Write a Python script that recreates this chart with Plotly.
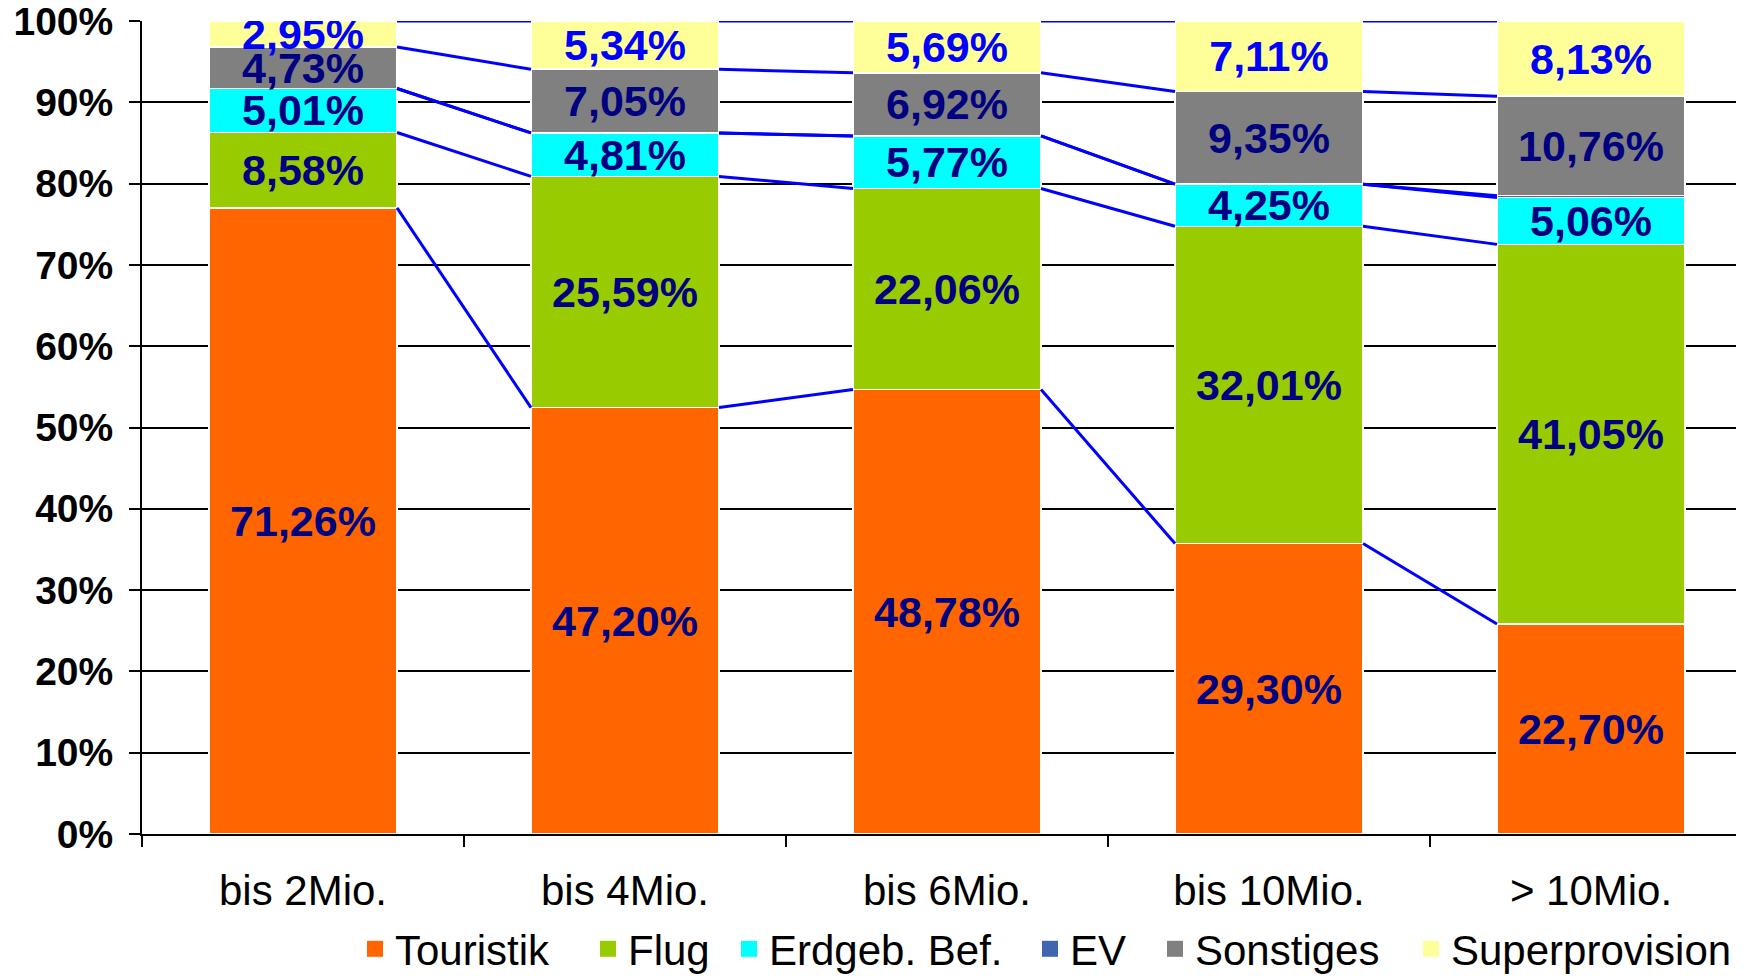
import plotly.graph_objects as go

categories = ["bis 2Mio.", "bis 4Mio.", "bis 6Mio.", "bis 10Mio.", "> 10Mio."]
touristik = [71.26, 47.20, 48.78, 29.30, 22.70]
flug = [8.58, 25.59, 22.06, 32.01, 41.05]
erdgeb = [5.01, 4.81, 5.77, 4.25, 5.06]
ev = [0.0, 0.0, 0.0, 0.0, 0.2]
sonstiges = [4.73, 7.05, 6.92, 9.35, 10.76]
superprovision = [2.95, 5.34, 5.69, 7.11, 8.13]
y_ticks = [0, 10, 20, 30, 40, 50, 60, 70, 80, 90, 100]
y_tick_labels = [f"{t}%" for t in y_ticks]

series = [
    ("Touristik", touristik, "#FF6600", "#000080", True),
    ("Flug", flug, "#99CC00", "#000080", True),
    ("Erdgeb. Bef.", erdgeb, "#00FFFF", "#000080", True),
    ("EV", ev, "#3F66AE", "#000080", False),
    ("Sonstiges", sonstiges, "#808080", "#000080", True),
    ("Superprovision", superprovision, "#FFFF99", "#0000FF", True),
]

FONT = "Liberation Sans, Arial, sans-serif"
bar_frac = 0.584
# layout: the page has an 8px body margin
W, H = 1736, 968
ML, MT, MB = 134, 13, 142
PLOT_W = W - ML
PLOT_H = H - MT - MB
legend_left_px = [355, 588, 729, 1030, 1155, 1411]  # page px of each legend entry

def fmt(v):
    return f"{v:.2f}".replace(".", ",") + "%"

fig = go.Figure()
for name, vals, col, tcol, show in series:
    fig.add_trace(go.Bar(
        x=categories, y=vals, name=name, showlegend=False,
        marker=dict(color=col, line=dict(color="white", width=1.5)),
        text=[fmt(v) if show else "" for v in vals],
        textposition="inside", insidetextanchor="middle", textangle=0,
        constraintext="none",
        textfont=dict(family=FONT, size=43, color=tcol, weight="bold"),
        hoverinfo="skip",
    ))

# legend entries (square swatches), each in its own legend box
legend_layouts = {}
for k, (name, vals, col, tcol, show) in enumerate(series):
    lname = "legend" if k == 0 else f"legend{k + 1}"
    fig.add_trace(go.Scatter(
        x=[None], y=[None], name=name, mode="markers", legend=lname,
        marker=dict(symbol="square", size=16, color=col),
        hoverinfo="skip",
    ))
    legend_layouts[lname] = dict(
        orientation="h", x=(legend_left_px[k] - 8 - ML) / PLOT_W, xanchor="left",
        yref="container", y=1 - 907 / H, yanchor="top",
        font=dict(family=FONT, size=42, color="black"),
        itemclick=False, itemsizing="trace", bgcolor="rgba(0,0,0,0)",
    )

# Series lines connecting stacked segment tops (normalised to 100 %)
n = len(categories)
totals = [sum(s[1][i] for s in series) for i in range(n)]
cum = [0.0] * n
for name, vals, col, tcol, show in series:
    cum = [cum[i] + vals[i] for i in range(n)]
    pct = [cum[i] / totals[i] * 100 for i in range(n)]
    xs, ys = [], []
    for i in range(n - 1):
        xs += [i + bar_frac / 2, i + 1 - bar_frac / 2, None]
        ys += [pct[i], pct[i + 1], None]
    fig.add_trace(go.Scatter(
        x=xs, y=ys, xaxis="x2", mode="lines",
        line=dict(color="#0000FF", width=3),
        showlegend=False, hoverinfo="skip",
    ))

xr = [-0.5, -0.5 + PLOT_W / 322.0]
fig.update_layout(
    width=W, height=H,
    margin=dict(l=ML, r=0, t=MT, b=MB, autoexpand=False),
    plot_bgcolor="white", paper_bgcolor="white",
    barmode="stack", barnorm="percent", bargap=1 - bar_frac,
    xaxis=dict(
        type="category", range=xr, automargin=False,
        showline=True, linecolor="black", linewidth=2,
        ticks="outside", ticklen=11, tickwidth=2, tickcolor="black",
        tickson="boundaries", showgrid=False,
        tickfont=dict(family=FONT, size=42, color="black"),
        ticklabelstandoff=19,
    ),
    xaxis2=dict(overlaying="x", range=xr, visible=False),
    yaxis=dict(
        range=[0, 100], tickmode="array", tickvals=y_ticks, ticktext=y_tick_labels,
        automargin=False,
        showline=True, linecolor="black", linewidth=2,
        ticks="outside", ticklen=11, tickwidth=2, tickcolor="black",
        showgrid=True, gridcolor="black", gridwidth=1.5,
        tickfont=dict(family=FONT, size=39, color="black", weight="bold"),
        ticklabelstandoff=8, zeroline=False, ticklabeloverflow="allow",
    ),
    **legend_layouts,
)

fig.write_html("out.html")
